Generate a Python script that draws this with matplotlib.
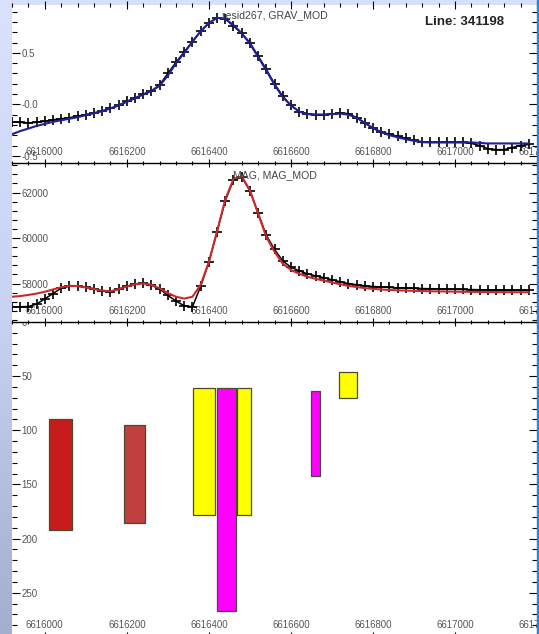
import numpy as np
import matplotlib.pyplot as plt
from matplotlib.ticker import MultipleLocator, FixedLocator, FixedFormatter, FuncFormatter
from matplotlib.colors import LinearSegmentedColormap

# station positions (northing)
stations = [6615920, 6615940, 6615960, 6615980, 6616000, 6616020, 6616040, 6616060,
            6616080, 6616100, 6616120, 6616140, 6616160, 6616180, 6616200, 6616220,
            6616240, 6616260, 6616280, 6616300, 6616320, 6616340, 6616360, 6616380,
            6616400, 6616420, 6616440, 6616460, 6616480, 6616500, 6616520, 6616540,
            6616560, 6616580, 6616600, 6616620, 6616640, 6616660, 6616680, 6616700,
            6616720, 6616740, 6616760, 6616780, 6616800, 6616820, 6616840, 6616860,
            6616880, 6616900, 6616920, 6616940, 6616960, 6616980, 6617000, 6617020,
            6617040, 6617060, 6617080, 6617100, 6617120, 6617140, 6617160, 6617180]

grav_obs = [-0.17, -0.175, -0.18, -0.175, -0.165, -0.15, -0.14, -0.13, -0.115, -0.10,
            -0.085, -0.065, -0.04, -0.01, 0.03, 0.06, 0.10, 0.13, 0.19, 0.30,
            0.41, 0.51, 0.61, 0.71, 0.79, 0.84, 0.83, 0.76, 0.69, 0.60,
            0.47, 0.34, 0.20, 0.08, -0.01, -0.07, -0.09, -0.10, -0.10, -0.095,
            -0.085, -0.09, -0.13, -0.18, -0.23, -0.27, -0.29, -0.31, -0.33, -0.35,
            -0.37, -0.37, -0.37, -0.37, -0.37, -0.37, -0.38, -0.40, -0.43, -0.44,
            -0.44, -0.42, -0.40, -0.39]
grav_mod = [-0.29, -0.26, -0.235, -0.21, -0.19, -0.17, -0.155, -0.14, -0.125, -0.105,
            -0.085, -0.065, -0.04, -0.01, 0.025, 0.06, 0.095, 0.13, 0.18, 0.28,
            0.40, 0.50, 0.61, 0.71, 0.79, 0.84, 0.83, 0.77, 0.69, 0.59,
            0.46, 0.33, 0.19, 0.07, -0.01, -0.07, -0.095, -0.10, -0.10, -0.095,
            -0.09, -0.10, -0.13, -0.18, -0.23, -0.27, -0.30, -0.32, -0.34, -0.355,
            -0.365, -0.37, -0.37, -0.37, -0.37, -0.37, -0.37, -0.375, -0.38, -0.38,
            -0.38, -0.38, -0.38, -0.38]

mag_obs = [56980, 56980, 56990, 57100, 57330, 57560, 57800, 57880, 57890, 57830,
           57770, 57680, 57640, 57760, 57880, 57980, 58020, 57930, 57760, 57480,
           57230, 57020, 56980, 57880, 58940, 60280, 61650, 62550, 62680, 62080,
           61100, 60120, 59500, 59000, 58720, 58560, 58430, 58340, 58260, 58170,
           58080, 58000, 57950, 57900, 57870, 57850, 57830, 57810, 57800, 57790,
           57780, 57775, 57770, 57760, 57750, 57740, 57735, 57730, 57725, 57720,
           57715, 57710, 57710, 57705]
mag_mod = [57420, 57450, 57500, 57560, 57640, 57740, 57840, 57900, 57890, 57830,
           57760, 57690, 57660, 57750, 57870, 57970, 58010, 57940, 57790, 57580,
           57420, 57340, 57420, 57950, 58950, 60300, 61700, 62600, 62720, 62100,
           61080, 60050, 59400, 58880, 58600, 58430, 58300, 58210, 58130, 58050,
           57970, 57900, 57850, 57800, 57770, 57740, 57720, 57700, 57690, 57680,
           57670, 57660, 57655, 57650, 57645, 57640, 57635, 57630, 57630, 57625,
           57625, 57620, 57620, 57620]

# model bodies: x extent, depth extent, colour
body_x0 = [6616010, 6616194, 6616362, 6616468, 6616420, 6616649, 6616718]
body_x1 = [6616066, 6616245, 6616416, 6616502, 6616466, 6616671, 6616762]
body_top = [90, 95, 61, 61, 61, 64, 46]
body_bot = [192, 186, 178, 178, 267, 142, 70]
body_colors = ['#c81c1c', '#c04040', '#ffff00', '#ffff00', '#ff00ff', '#ff00ff', '#ffff00']

grav_ticks = [-0.5, 0.0, 0.5]
grav_labels = ['-0.5', '-0.0', '0.5']
mag_ticks = [56000, 58000, 60000, 62000]
depth_ticks = [0, 50, 100, 150, 200, 250]

plt.rcParams['font.family'] = ['Liberation Sans', 'DejaVu Sans']

W, H = 539, 634
fig = plt.figure(figsize=(W / 100, H / 100), dpi=100)
fig.patch.set_facecolor('#d6dffb')

# left window strip with gradient
bg = fig.add_axes([0, 0, 12 / W, 1])
cmap = LinearSegmentedColormap.from_list('strip', ['#dae2fd', '#c8d2f2', '#a3aed0'])
bg.imshow(np.linspace(0, 1, 256).reshape(-1, 1), aspect='auto', cmap=cmap, extent=[0, 1, 0, 1])
bg.axis('off')
fig.add_artist(plt.Rectangle((537 / W, 0), 2 / W, 1, transform=fig.transFigure,
                             color='#1e88e5', zorder=10))


def px_axes(top, bottom):
    return fig.add_axes([12 / W, 1 - bottom / H, 525 / W, (bottom - top) / H])


ax3 = px_axes(322, 636)
ax2 = px_axes(163, 322)
ax1 = px_axes(5, 163)

lab_col = '#555555'
for ax in (ax1, ax2, ax3):
    ax.set_xlim(6615920, 6617200)
    for s in ['left', 'right', 'top']:
        ax.spines[s].set_visible(False)
    ax.spines['bottom'].set_linewidth(1.0)
    ax.xaxis.set_major_locator(MultipleLocator(200))
    ax.xaxis.set_minor_locator(MultipleLocator(40))
    ax.xaxis.set_major_formatter(FuncFormatter(lambda v, p: f'{v:.0f}'))
    ax.tick_params(axis='x', which='both', direction='inout', labelsize=6.9,
                   labelcolor=lab_col, pad=-14.6, width=0.8)
    ax.tick_params(axis='x', which='major', length=5.8)
    ax.tick_params(axis='x', which='minor', length=3)
    ax.tick_params(axis='y', which='both', direction='in', left=True, right=True,
                   labelsize=7, labelcolor=lab_col, pad=-7, width=0.8)
    ax.tick_params(axis='y', which='major', length=5.8)
    ax.tick_params(axis='y', which='minor', length=3.5)

ax1.tick_params(axis='x', which='both', top=True)

# gravity panel
ax1.plot(stations, grav_obs, color='black', lw=1.1, marker='+', ms=7, mew=1.2)
ax1.plot(stations, grav_mod, color='#20209a', lw=1.5)
ax1.set_ylim(-0.57, 0.965)
ax1.yaxis.set_major_locator(FixedLocator(grav_ticks))
ax1.yaxis.set_major_formatter(FixedFormatter(grav_labels))
ax1.yaxis.set_minor_locator(MultipleLocator(0.1))
ax1.text(0.5, 0.937, 'resid267, GRAV_MOD', transform=ax1.transAxes, ha='center',
         va='center', fontsize=7.6, color='#444444')
ax1.text(0.861, 0.89, 'Line: 341198', transform=ax1.transAxes, ha='center',
         va='center', fontsize=9.5, fontweight='bold', color='#222222')

# magnetic panel
ax2.plot(stations, mag_obs, color='black', lw=1.1, marker='+', ms=7, mew=1.2)
ax2.plot(stations, mag_mod, color='#cc2a2a', lw=1.5)
ax2.set_ylim(56310, 63300)
ax2.yaxis.set_major_locator(FixedLocator(mag_ticks))
ax2.yaxis.set_major_formatter(FuncFormatter(lambda v, p: f'{v:.0f}'))
ax2.yaxis.set_minor_locator(MultipleLocator(400))
ax2.text(0.5, 0.925, 'MAG, MAG_MOD', transform=ax2.transAxes, ha='center',
         va='center', fontsize=7.6, color='#444444')

# section panel
for x0, x1, t, b, c in zip(body_x0, body_x1, body_top, body_bot, body_colors):
    ax3.bar(x0, b - t, width=x1 - x0, bottom=t, align='edge', color=c,
            edgecolor='#4a4a30', linewidth=0.9)
ax3.set_ylim(290, 0)
ax3.yaxis.set_major_locator(FixedLocator(depth_ticks))
ax3.yaxis.set_major_formatter(FuncFormatter(lambda v, p: f'{v:.0f}'))
ax3.yaxis.set_minor_locator(MultipleLocator(10))

for ax in (ax1, ax2, ax3):
    for lab in ax.yaxis.get_majorticklabels():
        lab.set_horizontalalignment('left')

fig.savefig('out.png', dpi=100, facecolor=fig.get_facecolor())
